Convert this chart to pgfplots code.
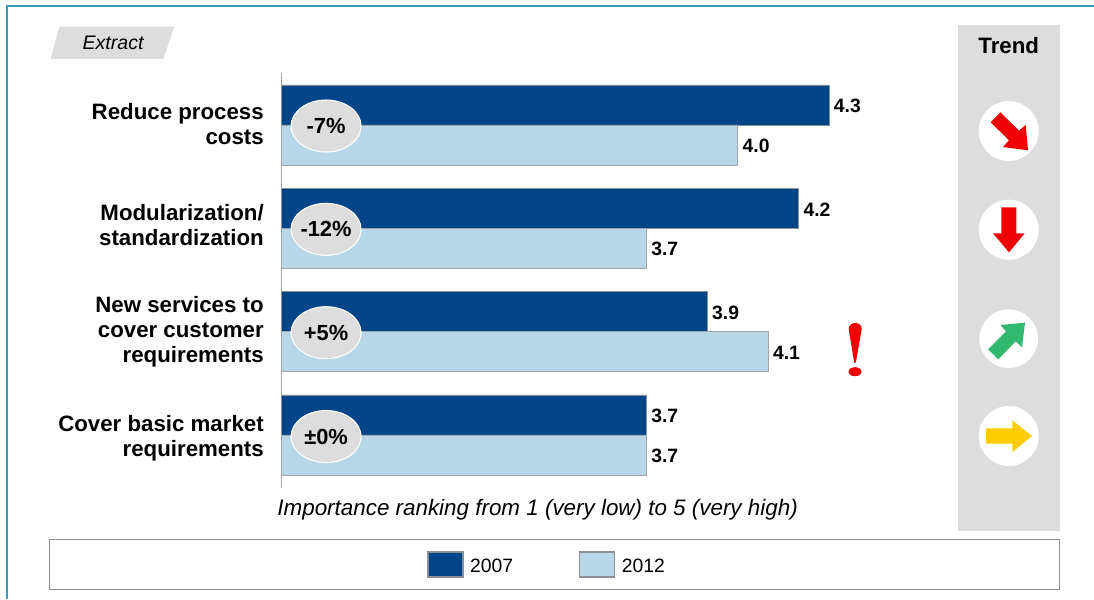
\documentclass[border=0pt]{standalone}
\usepackage{fontspec}
\setmainfont{Liberation Sans}
\usepackage{pgfplots}
\pgfplotsset{compat=1.18}
\usetikzlibrary{shapes.geometric}
\definecolor{darkbar}{HTML}{004587}
\definecolor{lightbar}{HTML}{B7D7E8}
\definecolor{panel}{HTML}{DDDDDD}
\definecolor{framecol}{HTML}{3A9DB8}
\definecolor{edgecol}{HTML}{8A8F96}
\definecolor{trendred}{HTML}{F00000}
\definecolor{trendgreen}{HTML}{33B96F}
\definecolor{trendyellow}{HTML}{FFCC00}
\newcommand{\fs}[1]{\fontsize{#1}{#1}\selectfont}
\begin{document}
\begin{tikzpicture}
\begin{scope}[x=0.75pt,y=-0.75pt]
% page extent and surrounding frame
\useasboundingbox (0,0) rectangle (1094,599);
\fill[white] (0,0) rectangle (1094,599);
\draw[framecol,line width=1pt] (7,599) -- (7,6) -- (1094,6);
% tag in the upper left corner
\fill[panel] (59.3,26.7) -- (174.3,26.7) -- (163.3,59) -- (50.7,59) -- cycle;
\node[font=\fs{14.7}\itshape,inner sep=0] at (113,42.5) {Extract};
% trend column
\fill[panel] (958,25) rectangle (1059.5,530.5);
\node[font=\fs{16.7}\bfseries,inner sep=0] at (1008.7,45.5) {Trend};
\fill[white] (1008.7,131) circle[radius=30];
\fill[white] (1008.7,229.7) circle[radius=30];
\fill[white] (1008.7,338.7) circle[radius=29.3];
\fill[white] (1008.7,436) circle[radius=30];
\end{scope}
\begin{scope}[x=0.25pt,y=-0.25pt,shift={(615pt,0pt)}]
\fill[trendred] (541,337) -- (597,392) -- (617,375) -- (624,451) -- (549,441) -- (567,421) -- (512,367) -- cycle;
\fill[trendred] (544,622) -- (589,622) -- (589,700) -- (614,700) -- (567,757) -- (519,700) -- (544,700) -- cycle;
\begin{scope}[shift={(0pt,-217.5pt)}]
\fill[trendgreen] (504,178) -- (558,124) -- (541,105) -- (615,98) -- (606,172) -- (587,154) -- (535,208) -- cycle;
\fill[trendyellow] (498,415) -- (577,415) -- (577,391) -- (636,438) -- (577,486) -- (577,461) -- (498,461) -- cycle;
\end{scope}
\end{scope}
\begin{scope}[x=0.75pt,y=-0.75pt]
% legend frame
\draw[edgecol,line width=0.9pt,fill=white] (49.5,539.5) rectangle (1059.5,589.5);
% exclamation mark beside the third group
\fill[trendred] (848.7,329) .. controls (848.7,321) and (861.7,321) .. (861.7,329) -- (855.8,362.7) -- (854.2,362.7) -- cycle;
\fill[trendred] (855,371.7) ellipse[x radius=6.5,y radius=4.5];
\end{scope}
\begin{axis}[
  at={(210.75pt,-54.75pt)},anchor=north west,
  scale only axis,
  width=570.75pt,height=311.25pt,
  xmin=2.5,xmax=5,
  ymin=-0.503,ymax=3.513,
  y dir=reverse,
  clip mode=individual,
  axis x line=none,
  axis y line*=left,
  y axis line style={draw=black!35,line width=0.6pt,-},
  xtick=\empty,
  ytick={-0.01,0.97,2,3.03},
  yticklabels={{Reduce process\\costs},{Modularization/\\standardization},{New services to\\cover customer\\requirements},{Cover basic market\\requirements}},
  major tick length=0pt,
  yticklabel style={align=right,font=\fontsize{16.7}{18.5}\selectfont\bfseries,inner sep=0pt,xshift=-12.75pt},
  xbar,
  bar width=30pt,
  nodes near coords={\pgfmathprintnumber[fixed,fixed zerofill,precision=1,assume math mode=true]{\pgfplotspointmeta}},
  nodes near coords align=horizontal,
  every node near coord/.append style={font=\fs{14.5}\bfseries,text=black,inner sep=0pt,xshift=3.5pt,yshift=-0.75pt},
  point meta=x,
  legend columns=2,
  legend cell align=left,
  legend image code/.code={\draw[#1,draw=edgecol,line width=0.9pt] (0pt,-7.9pt) rectangle (26.25pt,10.9pt);\path (29.25pt,0pt);},
  legend style={draw=none,fill=none,at={(axis cs:3.3755,4.253)},anchor=center,
    font=\fs{14.5},inner sep=0pt,
    /tikz/every even column/.append style={column sep=47.5pt}},
]
\addplot[fill=darkbar,draw=edgecol,line width=0.6pt,bar shift=15pt] coordinates {(4.3,0) (4.2,1) (3.9,2) (3.7,3)};
\addplot[fill=lightbar,draw=edgecol!80,line width=0.6pt,bar shift=-15pt] coordinates {(4.0,0) (3.7,1) (4.1,2) (3.7,3)};
\legend{2007,2012}
% change between the two years, printed on each pair of bars
\foreach \yy/\txt in {0.01/{-7\%},1.01/{-12\%},2.01/{+5\%},3.015/{±0\%}}{
  \edef\temp{\noexpand\node[ellipse,fill=panel,draw=white,line width=0.8pt,minimum width=52.5pt,minimum height=39pt,inner sep=0pt] at (axis cs:2.648,\yy) {};
    \noexpand\node[inner sep=0pt,font=\noexpand\fs{16.4}\noexpand\bfseries] at (axis cs:2.648,\yy) {\txt};}
  \temp
}
\node[font=\fs{16.8}\itshape,inner sep=0pt] at (axis cs:3.343,3.726) {Importance ranking from 1 (very low) to 5 (very high)};
\end{axis}
\end{tikzpicture}
\end{document}
